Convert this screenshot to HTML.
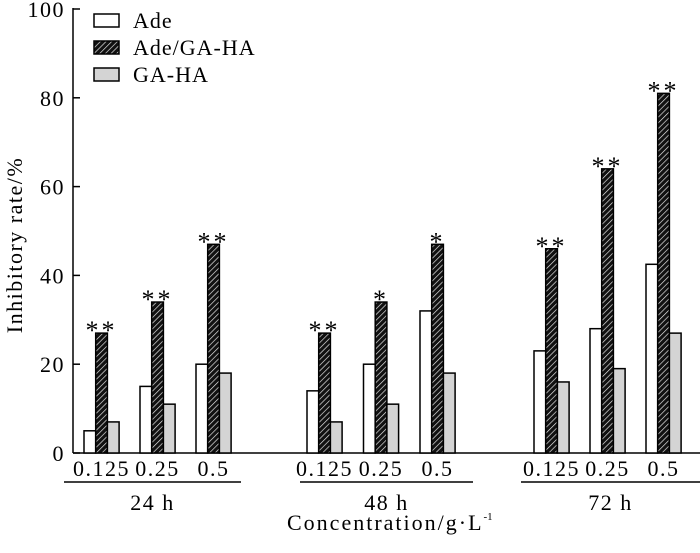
<!DOCTYPE html>
<html><head><meta charset="utf-8"><style>
body{margin:0;background:#fff}
svg text{font-family:"Liberation Serif",serif;fill:#000;font-size:22px;letter-spacing:1.5px}
</style></head><body>
<svg id="c" width="700" height="548" xmlns="http://www.w3.org/2000/svg">
<defs>
<pattern id="hatch" patternUnits="userSpaceOnUse" width="4" height="4" patternTransform="rotate(45)">
<rect width="4" height="4" fill="#111"/><line x1="0" y1="0" x2="0" y2="4" stroke="#eee" stroke-width="1.3"/>
</pattern>
</defs>
</svg>
<script>
const groups=["24 h","48 h","72 h"];
const concentrations=["0.125","0.25","0.5"];
const ade=[5,15,20,14,20,32,23,28,42.5];
const adeGaHa=[27,34,47,27,34,47,46,64,81];
const gaHa=[7,11,18,7,11,18,16,19,27];
const stars=["**","**","**","**","*","*","**","**","**"];
const yTicks=[0,20,40,60,80,100];

const svg=document.getElementById('c');
const NS="http://www.w3.org/2000/svg";
function el(t,a,txt){const e=document.createElementNS(NS,t);for(const k in a)e.setAttribute(k,a[k]);if(txt!=null)e.textContent=txt;svg.appendChild(e);return e;}
const y=v=>453-v*4.44;
const groupStart=[84,307,534], clusterStep=[56,56.5,56], bw=11.7;
function xStart(i){const g=Math.floor(i/3),c=i%3;return groupStart[g]+c*clusterStep[g];}

let e=el('line',{x1:73,y1:8,x2:73,y2:453,stroke:'#000','stroke-width':1.5});

e=el('line',{x1:73,y1:453,x2:700,y2:453,stroke:'#000','stroke-width':1.5});

yTicks.forEach(v=>{
  let t=el('line',{x1:73,y1:y(v),x2:80,y2:y(v),stroke:'#000','stroke-width':1.5});
  
  let l=el('text',{x:65,y:y(v)+8,'text-anchor':'end'},v);
  
});
e=el('text',{x:0,y:0,'text-anchor':'middle',transform:'translate(22,245) rotate(-90)'},'Inhibitory rate/%');


for(let i=0;i<9;i++){
  const x0=xStart(i);
  const series=[[ade[i],'#fff','bar-ade'],[adeGaHa[i],'url(#hatch)','bar-ade-ga-ha'],[gaHa[i],'#d4d4d4','bar-ga-ha']];
  series.forEach((s,k)=>{
    const r=el('rect',{x:x0+k*bw,y:y(s[0]),width:bw,height:453-y(s[0]),fill:s[1],stroke:'#000','stroke-width':1.5});
    
  });
  const st=el('text',{x:x0+bw*1.5,y:y(adeGaHa[i])+6,'text-anchor':'middle',style:'font-size:26px;letter-spacing:3px'},stars[i]);
  
  const cl=el('text',{x:x0+bw*1.5,y:476,'text-anchor':'middle'},concentrations[i%3]);
  
}
const ulines=[[64,241],[300,473],[521,700]];
groups.forEach((g,k)=>{
  const u=el('line',{x1:ulines[k][0],y1:482,x2:ulines[k][1],y2:482,stroke:'#000','stroke-width':1.5});
  
  const t=el('text',{x:(ulines[k][0]+ulines[k][1])/2,y:510,'text-anchor':'middle'},g);
  
});
e=el('text',{x:287,y:530,style:'letter-spacing:2px'},'Concentration/g·L');

const bb=e.getBBox();
e=el('text',{x:bb.x+bb.width,y:520,style:'font-size:11px;letter-spacing:0'},'-1');


const leg=[['Ade','#fff'],['Ade/GA-HA','url(#hatch)'],['GA-HA','#d4d4d4']];
leg.forEach((l,k)=>{
  const r=el('rect',{x:94,y:14+k*27,width:25,height:13,fill:l[1],stroke:'#000','stroke-width':1.5});
  
  const t=el('text',{x:133,y:28+k*27,style:'letter-spacing:1px'},l[0]);
  
});
</script>
</body></html>
